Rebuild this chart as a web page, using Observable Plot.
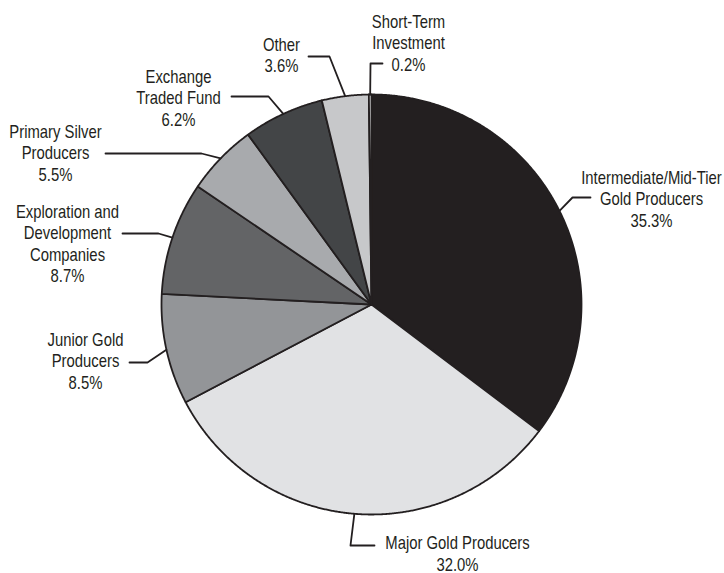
<!DOCTYPE html>
<html><head><meta charset="utf-8">
<script src="https://cdn.jsdelivr.net/npm/d3@7"></script>
<script src="https://cdn.jsdelivr.net/npm/@observablehq/plot@0.6"></script>
<style>html,body{margin:0;padding:0;background:#fff} #chart svg{display:block}</style>
</head><body><div id="chart"></div>
<script>
// ---- data ----
const categories = ["Intermediate/Mid-Tier Gold Producers","Major Gold Producers","Junior Gold Producers","Exploration and Development Companies","Primary Silver Producers","Exchange Traded Fund","Other","Short-Term Investment"];
const values = [35.3, 32.0, 8.5, 8.7, 5.5, 6.2, 3.6, 0.2];
const labelLines = [
  ["Intermediate/Mid-Tier","Gold Producers"],
  ["Major Gold Producers"],
  ["Junior Gold","Producers"],
  ["Exploration and","Development","Companies"],
  ["Primary Silver","Producers"],
  ["Exchange","Traded Fund"],
  ["Other"],
  ["Short-Term","Investment"]
];
const sliceFills = ["#231f20","#e1e2e4","#939598","#636466","#a8aaad","#434547","#c7c8ca","#e6e7e8"];

// ---- layout (pixels) ----
const W = 724, H = 573, CX = 371, CY = 304, R = 210;
const labelCenterX = [651, 457, 85, 67, 55, 178, 281, 408];
const labelFirstBaseline = [183, 548.5, 345, 217, 137, 82, 50, 27];
const leaderElbow = [[572,197],[350,545],[147,362],[158,233],[201,153],[268,96],[329,56],[370,63]];
const leaderEnd = [[590,197],[374,545],[129,362],[122,233],[105,153],[231,96],[308,56],[382,63]];
const lineStep = 21.5;
const ink = "#231f20";
const font = "'Liberation Sans',Arial,Helvetica,sans-serif";
const condense = 0.825;

const ux = px => (px - CX) / R;
const uy = py => (CY - py) / R;

// ---- pie geometry from values ----
const arcs = d3.pie().sort(null).value(d => d)(values);
const slicePts = [];
arcs.forEach((a, i) => {
  slicePts.push({k: i, x: 0, y: 0, fill: sliceFills[i]});
  const n = Math.max(2, Math.ceil((a.endAngle - a.startAngle) / 0.005));
  for (let j = 0; j <= n; j++) {
    const t = a.startAngle + (a.endAngle - a.startAngle) * j / n;
    slicePts.push({k: i, x: Math.sin(t), y: Math.cos(t), fill: sliceFills[i]});
  }
  slicePts.push({k: i, x: 0, y: 0, fill: sliceFills[i]});
});

const leaderPts = [];
arcs.forEach((a, i) => {
  const m = (a.startAngle + a.endAngle) / 2;
  leaderPts.push({k: i, x: Math.sin(m), y: Math.cos(m)});
  leaderPts.push({k: i, x: ux(leaderElbow[i][0]), y: uy(leaderElbow[i][1])});
  leaderPts.push({k: i, x: ux(leaderEnd[i][0]), y: uy(leaderEnd[i][1])});
});

const textRows = [];
categories.forEach((c, i) => {
  const lines = [...labelLines[i], values[i].toFixed(1) + "%"];
  lines.forEach((t, j) => {
    textRows.push({text: t, x: ux(labelCenterX[i]), y: uy(labelFirstBaseline[i] + j * lineStep)});
  });
});

const chart = Plot.plot({
  width: W, height: H,
  marginLeft: CX - R, marginRight: W - (CX + R),
  marginTop: CY - R, marginBottom: H - (CY + R),
  x: {domain: [-1, 1], axis: null},
  y: {domain: [-1, 1], axis: null},
  color: {type: "identity"},
  style: {background: "#fff", overflow: "visible"},
  marks: [
    Plot.line(slicePts, {x: "x", y: "y", z: "k", fill: "fill", stroke: ink, strokeWidth: 1.8, strokeLinejoin: "round", curve: "linear"}),
    Plot.line(leaderPts, {x: "x", y: "y", z: "k", stroke: ink, strokeWidth: 1.8, curve: "linear"}),
    Plot.text(textRows, {x: "x", y: "y", text: "text", textAnchor: "middle", lineAnchor: "bottom", fontSize: 18, fill: ink, fontFamily: font})
  ]
});
// condensed lettering (narrow face not installed): squeeze each label horizontally about its anchor
d3.select(chart).selectAll("g[aria-label='text'] text").each(function() {
  const t = this.getAttribute("transform");
  if (t) {
    this.setAttribute("transform", t + ` scale(${condense},1)`);
  } else {
    const x = +this.getAttribute("x") || 0, y = +this.getAttribute("y") || 0;
    this.removeAttribute("x"); this.removeAttribute("y");
    this.setAttribute("transform", `translate(${x},${y}) scale(${condense},1)`);
  }
});
document.getElementById("chart").appendChild(chart);
</script>
</body></html>
